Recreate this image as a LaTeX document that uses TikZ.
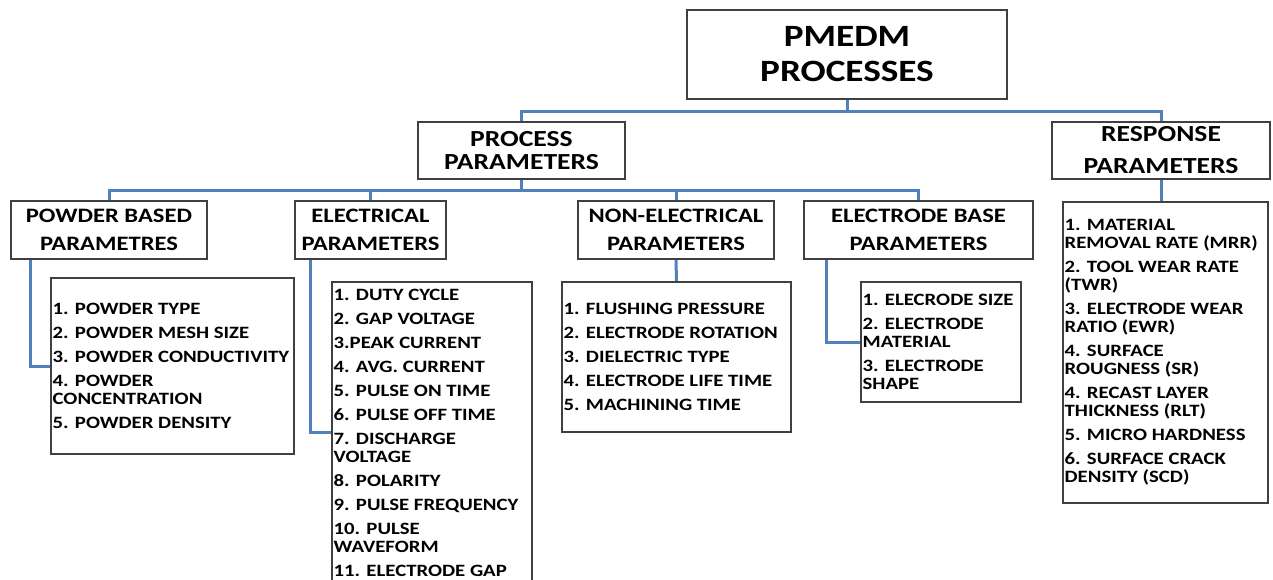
\documentclass[tikz,border=0pt]{standalone}
\usepackage{fontspec}
\setmainfont{Carlito}[FakeStretch=1.2]
\usetikzlibrary{shadows,backgrounds}

\definecolor{linkblue}{RGB}{79,129,189}
\definecolor{boxgray}{RGB}{64,64,64}

\tikzset{
  framed/.style={draw=boxgray, line width=1.1pt, fill=white, inner sep=0pt,
    drop shadow={shadow xshift=1.2pt, shadow yshift=-1.2pt, fill=black!45, opacity=.45}},
  titlebox/.style={framed, align=center, font=\fontsize{31}{35}\selectfont\bfseries},
  headbox/.style={framed, align=center, minimum height=58pt, font=\fontsize{20.5}{28}\selectfont\bfseries},
  listbox/.style={framed},
  listtxt/.style={align=left, inner sep=2pt, font=\fontsize{17.3}{18}\selectfont\bfseries},
  link/.style={draw=linkblue, line width=3pt},
}

\begin{document}
\begin{tikzpicture}[x=1pt, y=-1pt]
  \clip (0,0) rectangle (1273,579);
  % top level
  \node[titlebox, minimum width=320pt, minimum height=89pt] (title) at (847,54.5) {PMEDM\\PROCESSES};
  \node[headbox, minimum width=207pt, minimum height=57pt, font=\fontsize{23}{23}\selectfont\bfseries] (proc) at (521.5,150.5) {PROCESS\\PARAMETERS};
  \node[headbox, minimum width=218pt, minimum height=57pt, font=\fontsize{23}{32}\selectfont\bfseries] (resp) at (1161,150.5) {RESPONSE\\PARAMETERS};
  % parameter groups
  \node[headbox, minimum width=196pt] (powhead) at (109,230) {POWDER BASED\\PARAMETRES};
  \node[headbox, minimum width=151pt] (elechead) at (370.5,230) {ELECTRICAL\\PARAMETERS};
  \node[headbox, minimum width=196pt] (nonhead) at (676,230) {NON-ELECTRICAL\\PARAMETERS};
  \node[headbox, minimum width=229pt] (electhead) at (918.5,230) {ELECTRODE BASE\\PARAMETERS};
  % lists
  \node[listbox, minimum width=243pt, minimum height=176pt] (powbox) at (172.5,366) {};
  \node[listtxt, anchor=west] (powtxt) at (powbox.west)
    {1. POWDER TYPE\\[6pt]2. POWDER MESH SIZE\\[6pt]3. POWDER CONDUCTIVITY\\[6pt]4. POWDER\\CONCENTRATION\\[6pt]5. POWDER DENSITY};
  \node[listbox, minimum width=200pt, minimum height=318pt] (elecbox) at (432,441) {};
  \node[listtxt, anchor=north west] (electxt) at ([yshift=-5pt]elecbox.north west)
    {1. DUTY CYCLE\\[6pt]2. GAP VOLTAGE\\[6pt]3.PEAK CURRENT\\[6pt]4. AVG. CURRENT\\[6pt]5. PULSE ON TIME\\[6pt]6. PULSE OFF TIME\\[6pt]7. DISCHARGE\\VOLTAGE\\[6pt]8. POLARITY\\[6pt]9. PULSE FREQUENCY\\[6pt]10. PULSE\\WAVEFORM\\[6pt]11. ELECTRODE GAP};
  \coordinate (elecin) at (332,432);
  \node[listbox, minimum width=229pt, minimum height=150pt] (nonbox) at (676.5,357) {};
  \node[listtxt, anchor=west] (nontxt) at (nonbox.west)
    {1. FLUSHING PRESSURE\\[6pt]2. ELECTRODE ROTATION\\[6pt]3. DIELECTRIC TYPE\\[6pt]4. ELECTRODE LIFE TIME\\[6pt]5. MACHINING TIME};
  \node[listbox, minimum width=160pt, minimum height=120pt] (electbox) at (941,342) {};
  \node[listtxt, anchor=west] (electtxt) at (electbox.west)
    {1. ELECRODE SIZE\\[6pt]2. ELECTRODE\\MATERIAL\\[6pt]3. ELECTRODE\\SHAPE};
  \node[listbox, minimum width=205pt, minimum height=301pt] (respbox) at (1165.5,352.5) {};
  \node[listtxt, anchor=west] (resptxt) at (respbox.west)
    {1. MATERIAL\\REMOVAL RATE (MRR)\\[6pt]2. TOOL WEAR RATE\\(TWR)\\[6pt]3. ELECTRODE WEAR\\RATIO (EWR)\\[6pt]4. SURFACE\\ROUGNESS (SR)\\[6pt]4. RECAST LAYER\\THICKNESS (RLT)\\[6pt]5. MICRO HARDNESS\\[6pt]6. SURFACE CRACK\\DENSITY (SCD)};
  % connectors
  \begin{scope}[on background layer]
    \draw[link] (title.south) -- ++(0,12) -| (proc.north);
    \draw[link] (title.south) -- ++(0,12) -| (resp.north);
    \foreach \h in {powhead,elechead,nonhead,electhead}
      \draw[link] (proc.south) -- ++(0,11) -| (\h.north);
    \draw[link] ([xshift=20pt]powhead.south west) |- (powbox.west);
    \draw[link] ([xshift=16pt]elechead.south west) |- (elecin);
    \draw[link] (nonhead.south) -- (nonbox.north);
    \draw[link] ([xshift=23pt]electhead.south west) |- (electbox.west);
    \draw[link] (resp.south) -- (resp.south |- respbox.north);
  \end{scope}
\end{tikzpicture}
\end{document}
